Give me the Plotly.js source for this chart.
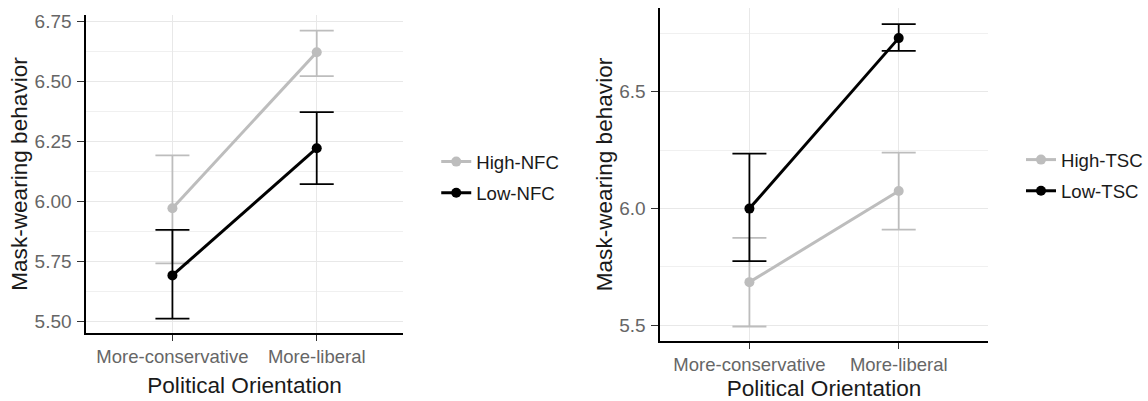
<!DOCTYPE html>
<html>
<head>
<meta charset="utf-8">
<script src="https://cdn.plot.ly/plotly-3.0.1.min.js"></script>
<style>
html,body{margin:0;padding:0;background:#fff;}
#chart{width:1148px;height:401px;}
</style>
</head>
<body>
<div id="chart"></div>
<script>
// Categories and tick labels
const categories = ["More-conservative", "More-liberal"];

// Left panel: Need for Cognition (NFC)
const highNFC_mean  = [5.97, 6.62];
const highNFC_upper = [6.19, 6.71];
const highNFC_lower = [5.74, 6.52];
const lowNFC_mean   = [5.69, 6.22];
const lowNFC_upper  = [5.88, 6.37];
const lowNFC_lower  = [5.51, 6.07];

// Right panel: TSC
const highTSC_mean  = [5.685, 6.075];
const highTSC_upper = [5.875, 6.24];
const highTSC_lower = [5.495, 5.91];
const lowTSC_mean   = [6.00, 6.73];
const lowTSC_upper  = [6.235, 6.79];
const lowTSC_lower  = [5.775, 6.675];

const leftTicks  = [5.50, 5.75, 6.00, 6.25, 6.50, 6.75];
const rightTicks = [5.5, 6.0, 6.5];

const GRAY = "#bdbdbd";
const BLACK = "#000000";
const FONT = "Liberation Sans, Arial, sans-serif";

function diff(a, b) { return a.map((v, i) => v - b[i]); }

function trace(name, mean, upper, lower, color, xa, ya, legend, group, rank) {
  return {
    type: "scatter", mode: "lines+markers", name: name,
    x: categories, y: mean, xaxis: xa, yaxis: ya, legend: legend,
    legendgroup: group, legendrank: rank,
    line: {color: color, width: 3},
    marker: {color: color, size: 10},
    error_y: {type: "data", symmetric: false,
      array: diff(upper, mean), arrayminus: diff(mean, lower),
      color: color, thickness: 1.8, width: 17}
  };
}

const data = [
  trace("High-NFC", highNFC_mean, highNFC_upper, highNFC_lower, GRAY,  "x", "y", "legend", "a1", 1),
  trace("Low-NFC",  lowNFC_mean,  lowNFC_upper,  lowNFC_lower,  BLACK, "x", "y", "legend", "a2", 2),
  trace("High-TSC", highTSC_mean, highTSC_upper, highTSC_lower, GRAY,  "x2", "y2", "legend2", "b1", 1),
  trace("Low-TSC",  lowTSC_mean,  lowTSC_upper,  lowTSC_lower,  BLACK, "x2", "y2", "legend2", "b2", 2)
];

const W = 1148, H = 401;
function xaxis(d0, d1, anchor) {
  return {
    domain: [d0 / W, d1 / W], anchor: anchor, type: "category",
    range: [-0.6, 1.6], showgrid: true, gridcolor: "#e8e8e8", gridwidth: 1,
    showline: true, linecolor: "#000", linewidth: 1.5,
    ticks: "outside", ticklen: 6, tickcolor: "#333", tickwidth: 1,
    tickfont: {family: FONT, size: 18.5, color: "#666"},
    title: {text: "Political Orientation", font: {family: FONT, size: 22.6, color: "#1a1a1a"}, standoff: 11},
    zeroline: false, fixedrange: true
  };
}
function yaxis(top, bottom, range, ticks, fmt, minorStep, anchor) {
  return {
    domain: [1 - bottom / H, 1 - top / H], anchor: anchor, range: range,
    tickvals: ticks, tickformat: fmt,
    showgrid: true, gridcolor: "#e8e8e8", gridwidth: 1,
    minor: {dtick: minorStep, tick0: ticks[0], showgrid: true, gridcolor: "#f0f0f0", gridwidth: 1, ticks: ""},
    showline: true, linecolor: "#000", linewidth: 1.5,
    ticks: "outside", ticklen: 7, tickcolor: "#333", tickwidth: 1,
    ticklabelstandoff: 2,
    tickfont: {family: FONT, size: 19, color: "#666"},
    title: {text: "Mask-wearing behavior", font: {family: FONT, size: 22.6, color: "#1a1a1a"}, standoff: 0},
    zeroline: false, fixedrange: true
  };
}

const legendBase = {
  font: {family: FONT, size: 18.6, color: "#1a1a1a"},
  bgcolor: "rgba(0,0,0,0)", traceorder: "grouped", tracegroupgap: 4,
  xanchor: "left", yanchor: "top", itemclick: false
};

const layout = {
  width: W, height: H, autosize: false,
  margin: {l: 0, r: 0, t: 0, b: 0},
  paper_bgcolor: "#fff", plot_bgcolor: "#fff",
  xaxis: xaxis(86, 404, "y"),
  yaxis: yaxis(15, 333, [5.45, 6.775], leftTicks, ".2f", 0.125, "x"),
  xaxis2: xaxis(661, 990, "y2"),
  yaxis2: yaxis(8, 341, [5.433, 6.859], rightTicks, ".1f", 0.25, "x2"),
  legend: Object.assign({x: 437 / W, y: 1 - 143 / H}, legendBase),
  legend2: Object.assign({x: 1023 / W, y: 1 - 141 / H}, legendBase),
  showlegend: true
};

Plotly.newPlot("chart", data, layout, {displayModeBar: false, staticPlot: true});
</script>
</body>
</html>
